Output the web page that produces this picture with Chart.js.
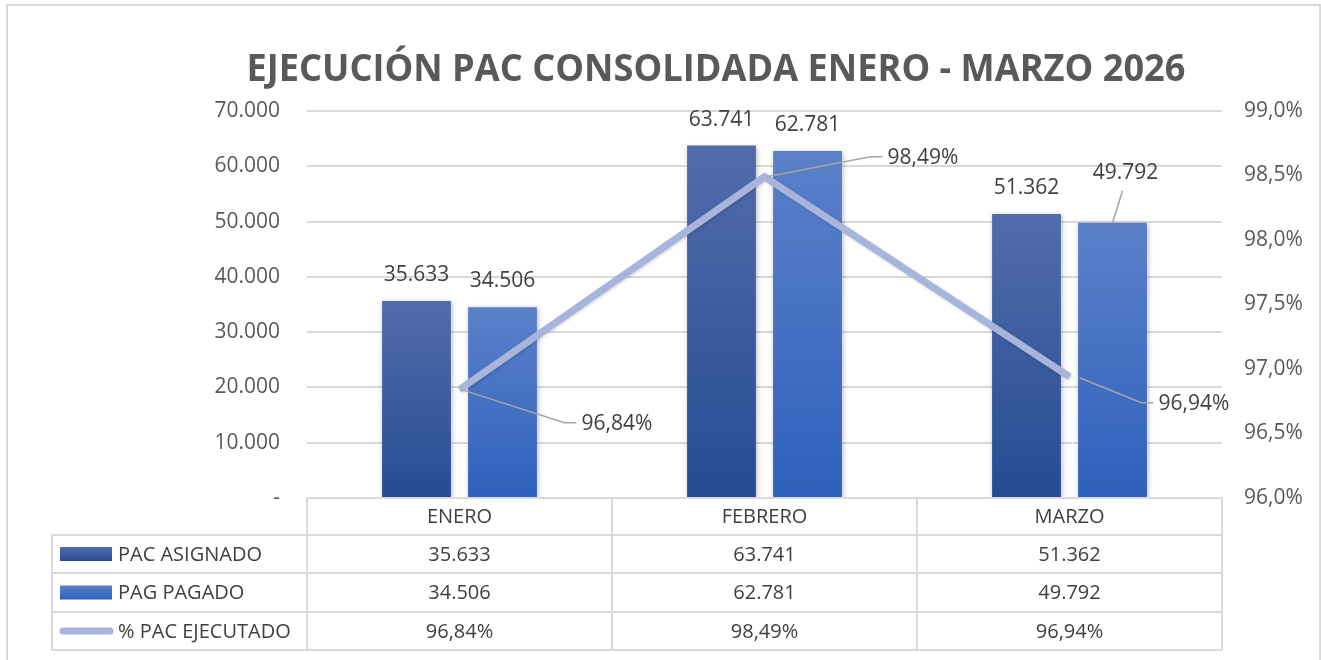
<!DOCTYPE html>
<html>
<head>
<meta charset="utf-8">
<script src="https://cdn.jsdelivr.net/npm/chart.js@4.4.1/dist/chart.umd.min.js"></script>
<style>
html,body{margin:0;padding:0;background:#fff;}
#wrap{position:relative;width:1321px;height:660px;}
</style>
</head>
<body>
<div id="wrap"><canvas id="c" width="1321" height="660"></canvas></div>
<script>
const titleText = 'EJECUCIÓN PAC CONSOLIDADA ENERO - MARZO 2026';
const categories = ['ENERO', 'FEBRERO', 'MARZO'];
const pacAsignado = [35633, 63741, 51362];
const pagPagado = [34506, 62781, 49792];
const pacEjecutado = [0.9684, 0.9849, 0.9694];
const seriesNames = ['PAC ASIGNADO', 'PAG PAGADO', '% PAC EJECUTADO'];
const leftTicks = [0, 10000, 20000, 30000, 40000, 50000, 60000, 70000];
const rightTicks = [0.96, 0.965, 0.97, 0.975, 0.98, 0.985, 0.99];

const FONT = '"Open Sans", "Noto Sans", sans-serif';
const TXT = '#404040';
const AX = '#595959';
const GRID = '#d9d9d9';

function fmtNum(v){
  if (v === 0) return '-';
  return Math.round(v).toString().replace(/\B(?=(\d{3})+(?!\d))/g, '.');
}
function fmtPct(v, d){ return (v*100).toFixed(d).replace('.', ',') + '%'; }

function barGrad(top, bottom){
  return function(ctx){
    const chart = ctx.chart;
    const ca = chart.chartArea;
    if (!ca) return bottom;
    const y = chart.scales.y;
    const yt = y.getPixelForValue(ctx.raw);
    const g = chart.ctx.createLinearGradient(0, yt, 0, ca.bottom);
    g.addColorStop(0, top);
    g.addColorStop(1, bottom);
    return g;
  };
}
const C1top = '#526cab', C1bot = '#264b93';
const C2top = '#5b80c9', C2bot = '#2e61bc';
const LINEC = '#a7b5dc';

const PLOT = {left: 307, right: 1222, top: 111, bottom: 498};

const framePlugin = {
  id: 'frame',
  beforeDraw(chart){
    const ctx = chart.ctx;
    ctx.save();
    ctx.fillStyle = '#fff';
    ctx.fillRect(0,0,chart.width,chart.height);
    ctx.strokeStyle = '#d9d9d9';
    ctx.lineWidth = 2;
    ctx.beginPath();
    ctx.moveTo(7, 662); ctx.lineTo(7, 5); ctx.lineTo(1320, 5); ctx.lineTo(1320, 662);
    ctx.stroke();
    ctx.restore();
  }
};

const shadowPlugin = {
  id: 'barShadow',
  beforeDatasetDraw(chart, args){
    const ctx = chart.ctx;
    ctx.save();
    if (chart.data.datasets[args.index].type === 'bar'){
      ctx.shadowColor = 'rgba(0,0,0,0.28)';
      ctx.shadowBlur = 5;
      ctx.shadowOffsetX = 1;
      ctx.shadowOffsetY = 1;
    } else {
      ctx.shadowColor = 'rgba(0,0,0,0.18)';
      ctx.shadowBlur = 3;
      ctx.shadowOffsetX = 1;
      ctx.shadowOffsetY = 1;
    }
  },
  afterDatasetDraw(chart){ chart.ctx.restore(); }
};

const overlayPlugin = {
  id: 'overlay',
  afterDraw(chart){
    const ctx = chart.ctx;
    const xs = chart.scales.x;
    const ca = chart.chartArea;
    ctx.save();

    // title
    ctx.fillStyle = AX;
    ctx.font = 'bold 37px ' + FONT;
    ctx.textBaseline = 'middle';
    ctx.textAlign = 'center';
    const tw = ctx.measureText(titleText).width;
    const sx = 939 / tw;
    ctx.save();
    ctx.translate(716, 70);
    ctx.scale(sx, 1);
    ctx.fillText(titleText, 0, 0);
    ctx.restore();

    // bar data labels
    ctx.font = '21px ' + FONT;
    ctx.fillStyle = TXT;
    ctx.textAlign = 'center';
    ctx.textBaseline = 'middle';
    [1,2].forEach(di => {
      const meta = chart.getDatasetMeta(di);
      const vals = di === 1 ? pacAsignado : pagPagado;
      meta.data.forEach((bar, i) => {
        let lx = bar.x, ly = bar.y - 26;
        if (di === 2 && i === 2){
          lx = bar.x + 13; ly = bar.y - 50;
          ctx.save();
          ctx.strokeStyle = '#a6a6a6'; ctx.lineWidth = 1.5;
          ctx.beginPath(); ctx.moveTo(lx - 3, ly + 18); ctx.lineTo(bar.x, bar.y); ctx.stroke();
          ctx.restore();
        }
        ctx.fillText(fmtNum(vals[i]), lx, ly);
      });
    });

    // percentage labels with leader lines
    const lm = chart.getDatasetMeta(0);
    const pctOff = [[105, 33], [106, -20], [72, 26]];
    lm.data.forEach((pt, i) => {
      const ex = pt.x + pctOff[i][0], ey = pt.y + pctOff[i][1];
      ctx.save();
      ctx.strokeStyle = '#a6a6a6'; ctx.lineWidth = 1.5;
      ctx.beginPath();
      ctx.moveTo(pt.x + (i===2?10:2), pt.y + (i===2?1:0));
      ctx.lineTo(ex, ey);
      ctx.lineTo(ex + 12, ey);
      ctx.stroke();
      ctx.restore();
      ctx.textAlign = 'left';
      ctx.fillText(fmtPct(pacEjecutado[i], 2), ex + 17, ey + 1);
    });

    // data table
    const rows = [498, 535, 573, 612, 650];
    const colEdges = [ca.left];
    for (let i = 0; i < categories.length; i++){
      const c = xs.getPixelForValue(i);
      const next = i < categories.length - 1 ? xs.getPixelForValue(i+1) : null;
      colEdges.push(next !== null ? (c + next)/2 : ca.right);
    }
    const tableLeft = 52;
    ctx.strokeStyle = '#d9d9d9';
    ctx.lineWidth = 2;
    ctx.beginPath();
    ctx.moveTo(ca.left, rows[0]); ctx.lineTo(ca.right, rows[0]);
    for (let r = 1; r < rows.length; r++){
      ctx.moveTo(tableLeft, rows[r]); ctx.lineTo(ca.right, rows[r]);
    }
    colEdges.forEach(x => { ctx.moveTo(x, rows[0]); ctx.lineTo(x, rows[4]); });
    ctx.moveTo(tableLeft, rows[1]); ctx.lineTo(tableLeft, rows[4]);
    ctx.stroke();

    ctx.fillStyle = TXT;
    ctx.font = '20px ' + FONT;
    ctx.textAlign = 'center';
    ctx.textBaseline = 'middle';
    categories.forEach((cat, i) => {
      const cx = xs.getPixelForValue(i);
      ctx.fillText(cat, cx, (rows[0]+rows[1])/2 + 1);
      ctx.fillText(fmtNum(pacAsignado[i]), cx, (rows[1]+rows[2])/2 + 1);
      ctx.fillText(fmtNum(pagPagado[i]), cx, (rows[2]+rows[3])/2 + 1);
      ctx.fillText(fmtPct(pacEjecutado[i], 2), cx, (rows[3]+rows[4])/2 + 1);
    });
    ctx.textAlign = 'left';
    seriesNames.forEach((n, r) => {
      const cy = (rows[r+1] + rows[r+2]) / 2;
      if (r < 2){
        const g = ctx.createLinearGradient(0, cy-7, 0, cy+7);
        g.addColorStop(0, r===0 ? C1top : C2top);
        g.addColorStop(1, r===0 ? C1bot : C2bot);
        ctx.fillStyle = g;
        ctx.fillRect(60, cy - 7, 52, 14);
      } else {
        ctx.strokeStyle = LINEC;
        ctx.lineWidth = 7;
        ctx.lineCap = 'round';
        ctx.beginPath(); ctx.moveTo(63, cy); ctx.lineTo(110, cy); ctx.stroke();
      }
      ctx.fillStyle = TXT;
      ctx.fillText(n, 118, cy + 1);
    });
    ctx.restore();
  }
};

const chart = new Chart(document.getElementById('c'), {
  data: {
    labels: categories,
    datasets: [
      {
        type: 'line', label: seriesNames[2], data: pacEjecutado, yAxisID: 'y1',
        borderColor: LINEC, borderWidth: 7, pointRadius: 0, tension: 0,
        order: 0, borderJoinStyle: 'miter', borderCapStyle: 'butt'
      },
      {
        type: 'bar', label: seriesNames[0], data: pacAsignado, yAxisID: 'y',
        backgroundColor: barGrad(C1top, C1bot), order: 1,
        categoryPercentage: 0.564, barPercentage: 0.80
      },
      {
        type: 'bar', label: seriesNames[1], data: pagPagado, yAxisID: 'y',
        backgroundColor: barGrad(C2top, C2bot), order: 1,
        categoryPercentage: 0.564, barPercentage: 0.80
      }
    ]
  },
  options: {
    responsive: false,
    animation: false,
    devicePixelRatio: 1,
    layout: { padding: { left: 0, right: 0, top: PLOT.top, bottom: 660 - PLOT.bottom } },
    plugins: { legend: { display: false }, tooltip: { enabled: false }, title: { display: false } },
    scales: {
      x: { display: false, offset: true, grid: { display: false } },
      y: {
        position: 'left', min: 0, max: 70000,
        afterBuildTicks(s){ s.ticks = leftTicks.map(v => ({value: v})); },
        afterFit(s){ s.width = PLOT.left; },
        border: { display: false },
        grid: { color: GRID, lineWidth: 2, drawTicks: false },
        ticks: { color: AX, font: { family: FONT, size: 21 }, padding: 27, callback: v => fmtNum(v) }
      },
      y1: {
        position: 'right', min: 0.96, max: 0.99,
        afterBuildTicks(s){ s.ticks = rightTicks.map(v => ({value: v})); },
        afterFit(s){ s.width = 1321 - PLOT.right; },
        border: { display: false },
        grid: { display: false, drawTicks: false },
        ticks: { color: AX, font: { family: FONT, size: 21 }, padding: 22, callback: v => fmtPct(v, 1) }
      }
    }
  },
  plugins: [framePlugin, shadowPlugin, overlayPlugin]
});
</script>
</body>
</html>
